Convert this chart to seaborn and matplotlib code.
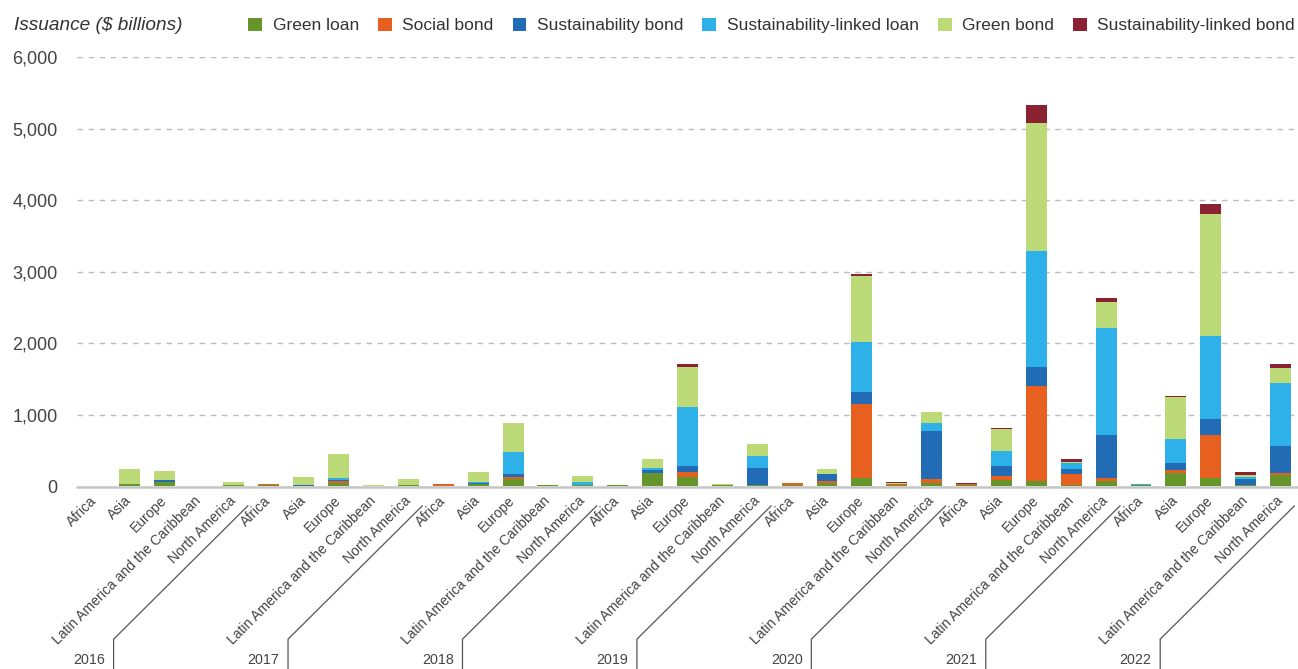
import pandas as pd
import matplotlib.pyplot as plt
import seaborn as sns
from matplotlib.patches import Patch
from matplotlib.transforms import blended_transform_factory

# Dados (bilhões de US$) - ordem por ano: Africa, Asia, Europe, LatAm, North America
years = ['2016', '2017', '2018', '2019', '2020', '2021', '2022']
regions = ['Africa', 'Asia', 'Europe', 'Latin America and the Caribbean', 'North America']

green_loan = [4, 28, 56, 4, 14,
              10, 5, 42, 5, 10,
              7, 28, 93, 9, 9,
              9, 177, 121, 9, 14,
              9, 37, 112, 9, 37,
              19, 79, 65, 14, 65,
              10, 177, 112, 9, 149]
social_bond = [0, 0, 0, 0, 0,
               14, 0, 23, 0, 0,
               16, 0, 28, 0, 0,
               0, 0, 70, 0, 0,
               28, 28, 1034, 23, 56,
               14, 56, 1327, 149, 42,
               5, 47, 596, 0, 28]
sustainability_bond = [0, 0, 23, 0, 0,
                       0, 14, 23, 0, 0,
                       0, 14, 42, 0, 0,
                       0, 42, 84, 0, 233,
                       0, 98, 163, 0, 670,
                       0, 140, 279, 70, 600,
                       0, 93, 223, 84, 377]
sust_linked_loan = [0, 0, 0, 0, 0,
                    0, 0, 23, 0, 0,
                    0, 14, 307, 0, 42,
                    0, 28, 824, 0, 168,
                    0, 0, 712, 0, 112,
                    0, 210, 1620, 84, 1508,
                    12, 335, 1173, 28, 880]
green_bond = [3, 205, 126, 3, 37,
              0, 112, 335, 14, 84,
              0, 135, 405, 0, 84,
              0, 126, 559, 19, 168,
              0, 70, 922, 5, 154,
              0, 307, 1784, 14, 363,
              0, 600, 1704, 28, 223]
sust_linked_bond = [0, 0, 0, 0, 0,
                    0, 0, 0, 0, 0,
                    0, 0, 0, 0, 0,
                    0, 0, 42, 0, 0,
                    0, 0, 28, 14, 0,
                    9, 14, 256, 42, 56,
                    0, 14, 140, 42, 56]

series = ['Green loan', 'Social bond', 'Sustainability bond',
          'Sustainability-linked loan', 'Green bond', 'Sustainability-linked bond']
colors = ['#66952b', '#e8601f', '#226cb5', '#2db1e8', '#bcda77', '#8a2231']
values = [green_loan, social_bond, sustainability_bond,
          sust_linked_loan, green_bond, sust_linked_bond]

slots = [f'{y}|{r}' for y in years for r in regions]
df = pd.DataFrame({'slot': slots})
cum = [0] * len(slots)
for name, vals in zip(series, values):
    cum = [c + v for c, v in zip(cum, vals)]
    df[name] = cum

sns.set_style('white')
plt.rcParams['font.family'] = ['Liberation Sans', 'DejaVu Sans']

fig = plt.figure(figsize=(12.98, 6.69), dpi=100)
ax = fig.add_axes([0.0593, 0.2735, 0.9407, 0.6413])

# barras empilhadas: desenha os totais acumulados de cima para baixo
for name, col in reversed(list(zip(series, colors))):
    sns.barplot(data=df, x='slot', y=name, order=slots, color=col,
                width=0.6, saturation=1, ax=ax, zorder=2,
                edgecolor='none', linewidth=0)

ax.set_xlim(-0.5, len(slots) - 0.5)
ax.set_ylim(0, 6000)
ax.set_yticks(range(0, 6001, 1000))
ax.set_yticklabels([f'{v:,}' for v in range(0, 6001, 1000)], fontsize=13, color='#444444')
ax.set_ylabel('')
ax.set_xlabel('')
for v in range(1000, 6001, 1000):
    ax.axhline(v, color='#bbbbbb', lw=1, ls=(0, (4, 4)), zorder=1)
ax.axhline(-8, color='#c4c4c4', lw=1.8, zorder=1.5, clip_on=False)
sns.despine(ax=ax, left=True, bottom=True)
ax.tick_params(axis='y', length=0, pad=14)
ax.tick_params(axis='x', length=0, pad=9)

ax.set_xticks(range(len(slots)))
ax.set_xticklabels(regions * len(years), rotation=45, ha='right',
                   rotation_mode='anchor', va='center', fontsize=10, color='#444444')

# colchetes dos anos
trans = blended_transform_factory(ax.transData, ax.transAxes)
for i, y in enumerate(years):
    x0 = 0.55 + 5 * i
    ax.plot([x0, x0, x0 + 3.85], [-0.43, -0.357, -0.046], color='#555555', lw=0.9,
            transform=trans, clip_on=False)
    ax.text(x0 - 0.25, -0.405, y, transform=trans, ha='right', va='center',
            fontsize=10.3, color='#444444')

fig.text(0.011, 0.962, 'Issuance ($ billions)', fontsize=13.7, style='italic',
         color='#333333', va='center')
handles = [Patch(facecolor=c, edgecolor='none', label=n) for n, c in zip(series, colors)]
fig.legend(handles=handles, loc='center right', bbox_to_anchor=(1.003, 0.962), ncol=6,
           frameon=False, fontsize=12.5, handlelength=0.8, handleheight=0.8,
           handletextpad=0.6, columnspacing=1.1, labelcolor='#333333', borderaxespad=0)

plt.savefig('out.png', dpi=100)
